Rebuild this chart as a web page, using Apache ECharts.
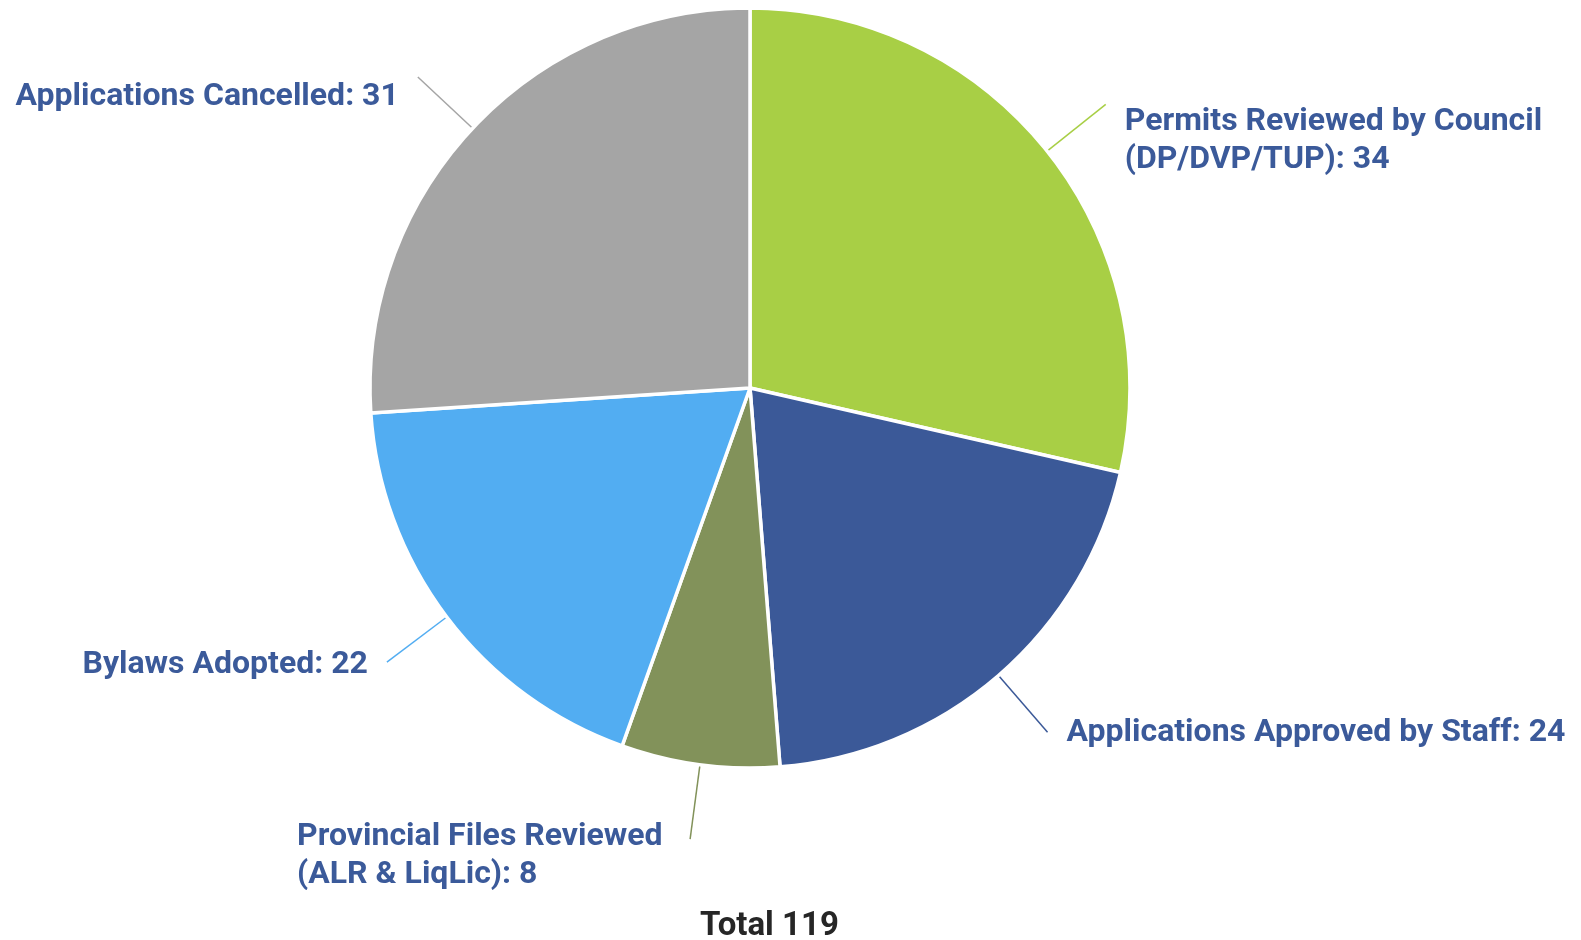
<!DOCTYPE html>
<html>
<head>
<meta charset="utf-8">
<script src="https://cdn.jsdelivr.net/npm/echarts@6/dist/echarts.min.js"></script>
<style>
	html, body { margin: 0; padding: 0; background: #fff; }
	#main { width: 1581px; height: 940px; }
</style>
</head>
<body>
<div id="main"></div>
<script>
// data
var names = [
	'Permits Reviewed by Council\n(DP/DVP/TUP)',
	'Applications Approved by Staff',
	'Provincial Files Reviewed\n(ALR & LiqLic)',
	'Bylaws Adopted',
	'Applications Cancelled'
];
var counts = [34, 24, 8, 22, 31];
var colors = ['#A8CF45', '#3B5998', '#82925A', '#52ADF2', '#A5A5A5'];
var totalText = 'Total 119';

var labelBlue = '#3B5A9A';
// labels sit a bit below the end of their leader line (top padding pushes text down)
var labelDrop = [74, 2, 34, 6, 40];

var txt = { color: labelBlue, fontSize: 32, fontWeight: 'bold', fontFamily: 'Roboto', lineHeight: 38 };

function richLabel(p) {
	var parts = (p.name + ': ' + p.value).split('\n');
	var key = p.dataIndex == 2 ? 'p' : 't';
	return parts.map(function (s) { return '{' + key + '|' + s + '}'; }).join('\n');
}

var pieData = names.map(function (n, i) {
	return {
		name: n,
		value: counts[i],
		itemStyle: { color: colors[i] },
		label: { padding: [labelDrop[i], 0, 0, 0] }
	};
});

var myChart = echarts.init(document.getElementById('main'));

var option = {
	backgroundColor: '#ffffff',
	animation: false,
	title: {
		text: totalText,
		left: 695,
		top: 905,
		textStyle: {
			fontFamily: 'Roboto',
			fontWeight: 'bold',
			fontSize: 33,
			color: '#262626'
		}
	},
	series: [{
		type: 'pie',
		center: [750, 388],
		radius: 380,
		startAngle: 90,
		clockwise: true,
		avoidLabelOverlap: false,
		data: pieData,
		itemStyle: {
			borderColor: '#ffffff',
			borderWidth: 3.5
		},
		label: {
			show: true,
			position: 'outside',
			formatter: richLabel,
			color: labelBlue,
			fontFamily: 'Roboto',
			fontWeight: 'bold',
			fontSize: 32,
			lineHeight: 38,
			alignTo: 'none',
			distanceToLabelLine: 19,
			rich: {
				t: txt,
				// provincial: lines left aligned inside a right-anchored block
				p: Object.assign({ width: 374, align: 'left' }, txt)
			}
		},
		labelLine: {
			show: true,
			length: 75,
			length2: 0,
			smooth: false,
			lineStyle: { width: 1.5 }
		}
	}]
};

myChart.setOption(option);
</script>
</body>
</html>
